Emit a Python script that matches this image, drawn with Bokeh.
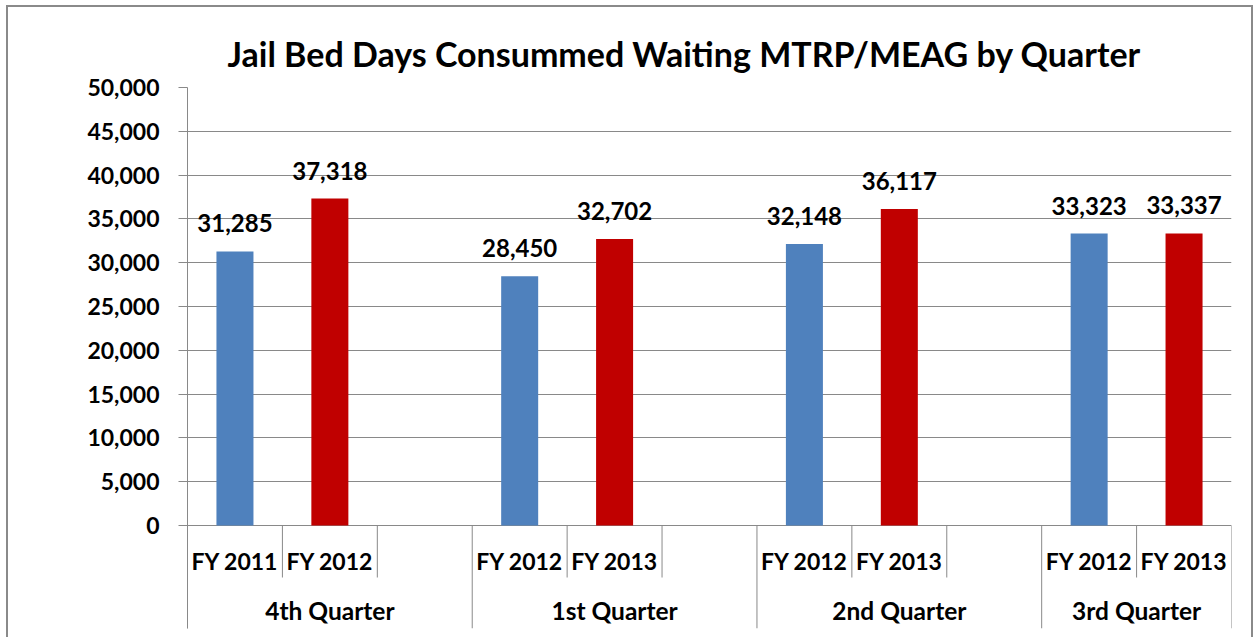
from bokeh.plotting import figure
from bokeh.models import Range1d, FixedTicker, NumeralTickFormatter, ColumnDataSource
from bokeh.core.properties import value
from bokeh.embed import file_html
from bokeh.resources import INLINE

# ---------------- data ----------------
chart_title = "Jail Bed Days Consummed Waiting MTRP/MEAG  by Quarter"
quarters = ["4th Quarter", "1st Quarter", "2nd Quarter", "3rd Quarter"]
slots_per_quarter = [3, 3, 3, 2]
fiscal_years = ["FY 2011", "FY 2012", "FY 2012", "FY 2013", "FY 2012", "FY 2013", "FY 2012", "FY 2013"]
bed_days = [31285, 37318, 28450, 32702, 32148, 36117, 33323, 33337]
bar_series = [0, 1, 0, 1, 0, 1, 0, 1]
series_colors = ["#4F81BD", "#C00000"]
y_ticks = [0, 5000, 10000, 15000, 20000, 25000, 30000, 35000, 40000, 45000, 50000]

# ---------------- layout ----------------
W, H = 1247, 632
FL, FR, FT, FB = 179, 24, 80, 11
frame_h = H - FT - FB
plot_px = 438.0               # pixels from 0 to 50,000
units_per_px = 50000 / plot_px
y_bottom = -(frame_h - plot_px) * units_per_px
short_div = -52 * units_per_px

FONT = "Lato"
GRAY = "#898989"

# bar x positions from the quarter slot structure
bar_x = []
starts = []
s = 0
for q, n in enumerate(slots_per_quarter):
    starts.append(s)
    bar_x += [s + 0.5, s + 1.5]
    s += n
total_slots = s

src = ColumnDataSource(dict(
    x=bar_x,
    top=bed_days,
    color=[series_colors[i] for i in bar_series],
    label=[f"{v:,}" for v in bed_days],
    fy=fiscal_years,
))

p = figure(width=W, height=H, output_backend="svg", toolbar_location=None,
           x_range=Range1d(0, total_slots), y_range=Range1d(y_bottom, 50000),
           min_border_left=FL, min_border_right=FR, min_border_top=FT, min_border_bottom=FB)
p.styles = {"border": "2px solid #8a8a8a", "border-bottom": "none",
            "margin-left": "6px", "margin-top": "5px"}
p.outline_line_color = None
p.background_fill_color = "white"
p.border_fill_color = "white"

p.xaxis.visible = False
p.xgrid.visible = False

p.yaxis.ticker = FixedTicker(ticks=y_ticks)
p.yaxis.formatter = NumeralTickFormatter(format="0,0")
p.yaxis.major_label_text_font = FONT
p.yaxis.major_label_text_font_style = "bold"
p.yaxis.major_label_text_font_size = "23px"
p.yaxis.major_label_text_color = "black"
p.yaxis.major_label_standoff = 19
p.yaxis.major_tick_out = 9
p.yaxis.major_tick_in = 0
p.yaxis.minor_tick_line_color = None
p.yaxis.axis_line_color = GRAY
p.yaxis.major_tick_line_color = GRAY
p.ygrid.grid_line_color = GRAY
p.ygrid.grid_line_width = 1

# title
p.title.text = chart_title
p.title.text_font = FONT
p.title.text_font_style = "bold"
p.title.text_font_size = "34px"
p.title.text_color = "black"
p.title.align = "left"
p.title.offset = 40
p.title.standoff = 27

# bars
p.vbar(x="x", top="top", width=0.39, bottom=0, color="color", line_color=None, source=src)

# data labels
p.text(x="x", y="top", text="label", source=src, text_align="center", text_baseline="alphabetic",
       y_offset=-28, text_font=value(FONT), text_font_style="bold", text_font_size="24px",
       text_color="black")

# category labels (fiscal years)
p.text(x="x", y=0, text="fy", source=src, text_align="center", text_baseline="middle",
       y_offset=35, text_font=value(FONT), text_font_style="bold", text_font_size="23px",
       text_color="black")

# quarter labels
q_center = [starts[i] + slots_per_quarter[i] / 2 for i in range(len(quarters))]
p.text(x=q_center, y=[0] * len(quarters), text=quarters, text_align="center", text_baseline="middle",
       y_offset=85, text_font=value(FONT), text_font_style="bold", text_font_size="24.5px",
       text_color="black")

# category dividers
quarter_bounds = set(starts + [total_slots])
dx, dy0, dy1 = [], [], []
for b in range(total_slots + 1):
    dx.append(b)
    dy0.append(0)
    dy1.append(y_bottom if b in quarter_bounds else short_div)
p.segment(x0=dx, y0=dy0, x1=dx, y1=dy1, line_color=GRAY, line_width=1)

open("out.html", "w").write(file_html(p, INLINE))
